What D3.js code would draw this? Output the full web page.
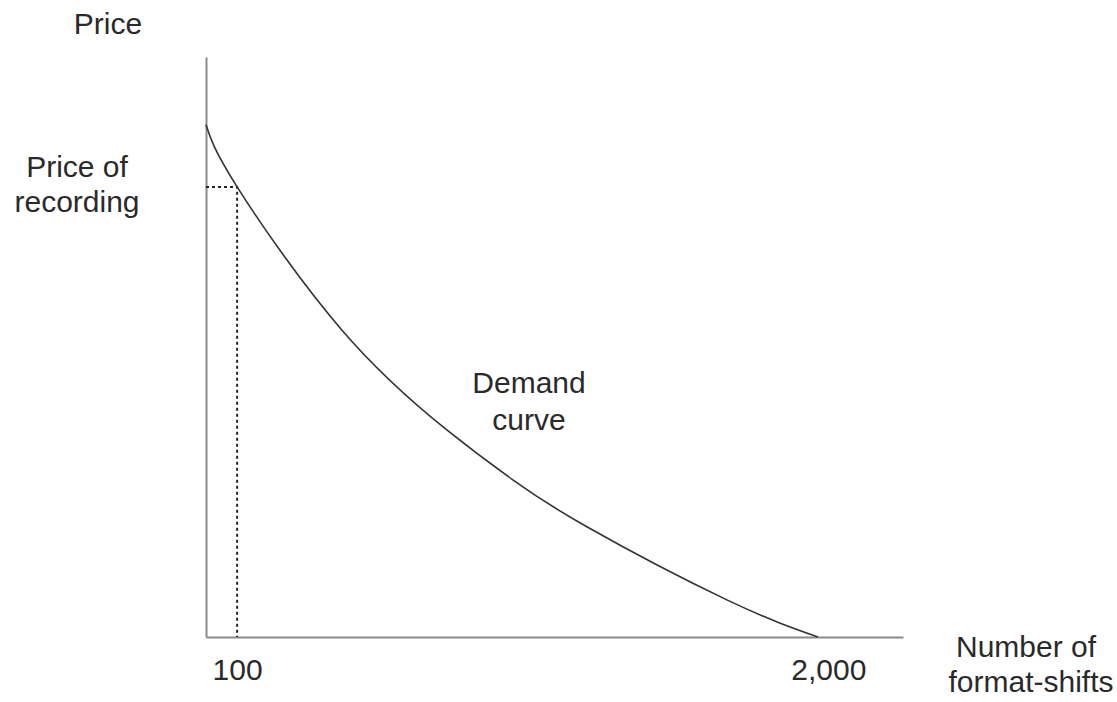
<!DOCTYPE html>
<html>
<head>
<meta charset="utf-8">
<script src="https://cdn.jsdelivr.net/npm/d3@7"></script>
<style>
  body { margin: 0; background: #fff; }
  text { font-family: "Liberation Sans", Arial, sans-serif; font-size: 30px; fill: #2a2a2a; }
  .axis path { stroke: #8a8a8a; stroke-width: 2; }
  .curve { fill: none; stroke: #333; stroke-width: 1.6; }
  .guide { fill: none; stroke: #222; stroke-width: 2; stroke-dasharray: 3,3; }
</style>
</head>
<body>
<div id="chart"></div>
<script>
// demand curve (quantity, price)
var quantity = [0, 100, 437, 774, 986, 1224, 1674, 1967];
var price = [88.3, 77.6, 52.9, 35.7, 27.1, 19.0, 6.4, 0];

var xTicks = [100, 2000];
var recordingQty = 100;
var recordingPrice = 77.6;

var margin = { top: 57, right: 214, bottom: 65, left: 206 },
    width = 1117 - margin.left - margin.right,
    height = 702 - margin.top - margin.bottom;

var svg = d3.select("#chart").append("svg")
    .attr("width", 1117)
    .attr("height", 702);

var g = svg.append("g")
    .attr("transform", "translate(" + margin.left + "," + margin.top + ")");

var xScale = d3.scaleLinear().domain([0, 2240]).range([0, width]);
var yScale = d3.scaleLinear().domain([0, 100]).range([height, 0]);

var data = quantity.map(function (q, i) { return { q: q, p: price[i] }; });

// axes
var xAxis = g.append("g")
    .attr("class", "axis")
    .attr("transform", "translate(0," + height + ")")
    .call(d3.axisBottom(xScale).tickValues(xTicks).tickSize(0).tickPadding(22)
        .tickFormat(d3.format(",")));
xAxis.selectAll("text").style("font-size", "30px").style("fill", "#2a2a2a")
    .style("font-family", "'Liberation Sans', Arial, sans-serif");

g.append("g")
    .attr("class", "axis")
    .call(d3.axisLeft(yScale).tickValues([]).tickSize(0));

// dotted guides for the price of a recording
g.append("path")
    .attr("class", "guide")
    .attr("d", d3.line()([
        [xScale(0), yScale(recordingPrice)],
        [xScale(recordingQty), yScale(recordingPrice)],
        [xScale(recordingQty), yScale(0)]
    ]));

var line = d3.line()
    .x(function (d) { return xScale(d.q); })
    .y(function (d) { return yScale(d.p); })
    .curve(d3.curveNatural);

g.append("path")
    .datum(data)
    .attr("class", "curve")
    .attr("d", line);

// labels
svg.append("text").attr("x", 108).attr("y", 34).attr("text-anchor", "middle").text("Price");

var pr = svg.append("text").attr("x", 77).attr("y", 177).attr("text-anchor", "middle");
pr.append("tspan").attr("x", 77).text("Price of");
pr.append("tspan").attr("x", 77).attr("dy", 35).text("recording");

var dc = svg.append("text").attr("x", 529).attr("y", 393).attr("text-anchor", "middle");
dc.append("tspan").attr("x", 529).text("Demand");
dc.append("tspan").attr("x", 529).attr("dy", 37).text("curve");

var nf = svg.append("text").attr("x", 1028).attr("y", 657).attr("text-anchor", "middle");
nf.append("tspan").attr("x", 1026).text("Number of");
nf.append("tspan").attr("x", 1031).attr("dy", 35).text("format-shifts");
</script>
</body>
</html>
